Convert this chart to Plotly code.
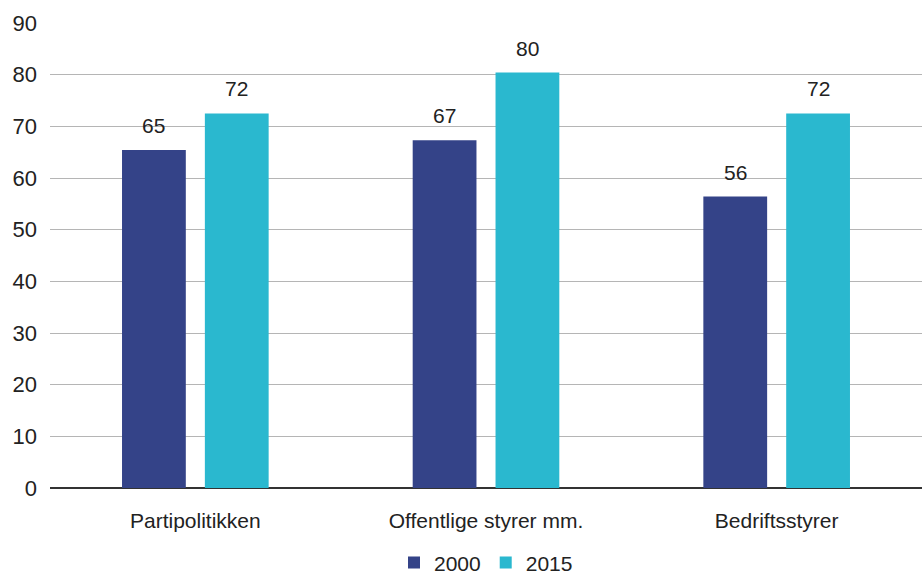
import plotly.graph_objects as go

categories = ["Partipolitikken", "Offentlige styrer mm.", "Bedriftsstyrer"]
series_names = ["2000", "2015"]
values_2000 = [65.4, 67.3, 56.4]
values_2015 = [72.5, 80.4, 72.5]
labels_2000 = ["65", "67", "56"]
labels_2015 = ["72", "80", "72"]
y_ticks = [0, 10, 20, 30, 40, 50, 60, 70, 80, 90]

colors = ["#344388", "#2ab8cf"]
font = "Liberation Sans, Arial, sans-serif"

fig = go.Figure()
for name, vals, col in zip(series_names, [values_2000, values_2015], colors):
    fig.add_trace(go.Bar(x=categories, y=vals, name=name, marker=dict(color=col, line=dict(width=0))))

for vals, labs, shift in [(values_2000, labels_2000, -41.5), (values_2015, labels_2015, 41.5)]:
    for c, v, t in zip(categories, vals, labs):
        fig.add_annotation(x=c, y=v, text=t, showarrow=False, xshift=shift, yshift=11,
                           yanchor="bottom", font=dict(family=font, size=21, color="#222222"))

fig.update_layout(
    width=922, height=578,
    margin=dict(l=50, r=0, t=23, b=90, autoexpand=False),
    paper_bgcolor="white", plot_bgcolor="white",
    barmode="group", bargap=0.43, bargroupgap=0.23,
    font=dict(family=font, size=22, color="#222222"),
    showlegend=True,
    legend=dict(orientation="h", x=0.5, xanchor="center", yref="container", y=0.026, yanchor="middle",
                font=dict(family=font, size=21, color="#222222"), itemwidth=30,
                traceorder="normal"),
    xaxis=dict(showgrid=False, showline=False, ticks="", tickfont=dict(size=21),
               ticklabelstandoff=18, automargin=False),
    yaxis=dict(range=[0, 90], tickvals=y_ticks, showgrid=True, gridcolor="#b5b5b5", gridwidth=1,
               zeroline=True, zerolinecolor="#333333", zerolinewidth=1.5, automargin=False,
               showline=False, ticks="", tickfont=dict(size=22), ticklabelstandoff=12),
)

fig.write_html("out.html")
